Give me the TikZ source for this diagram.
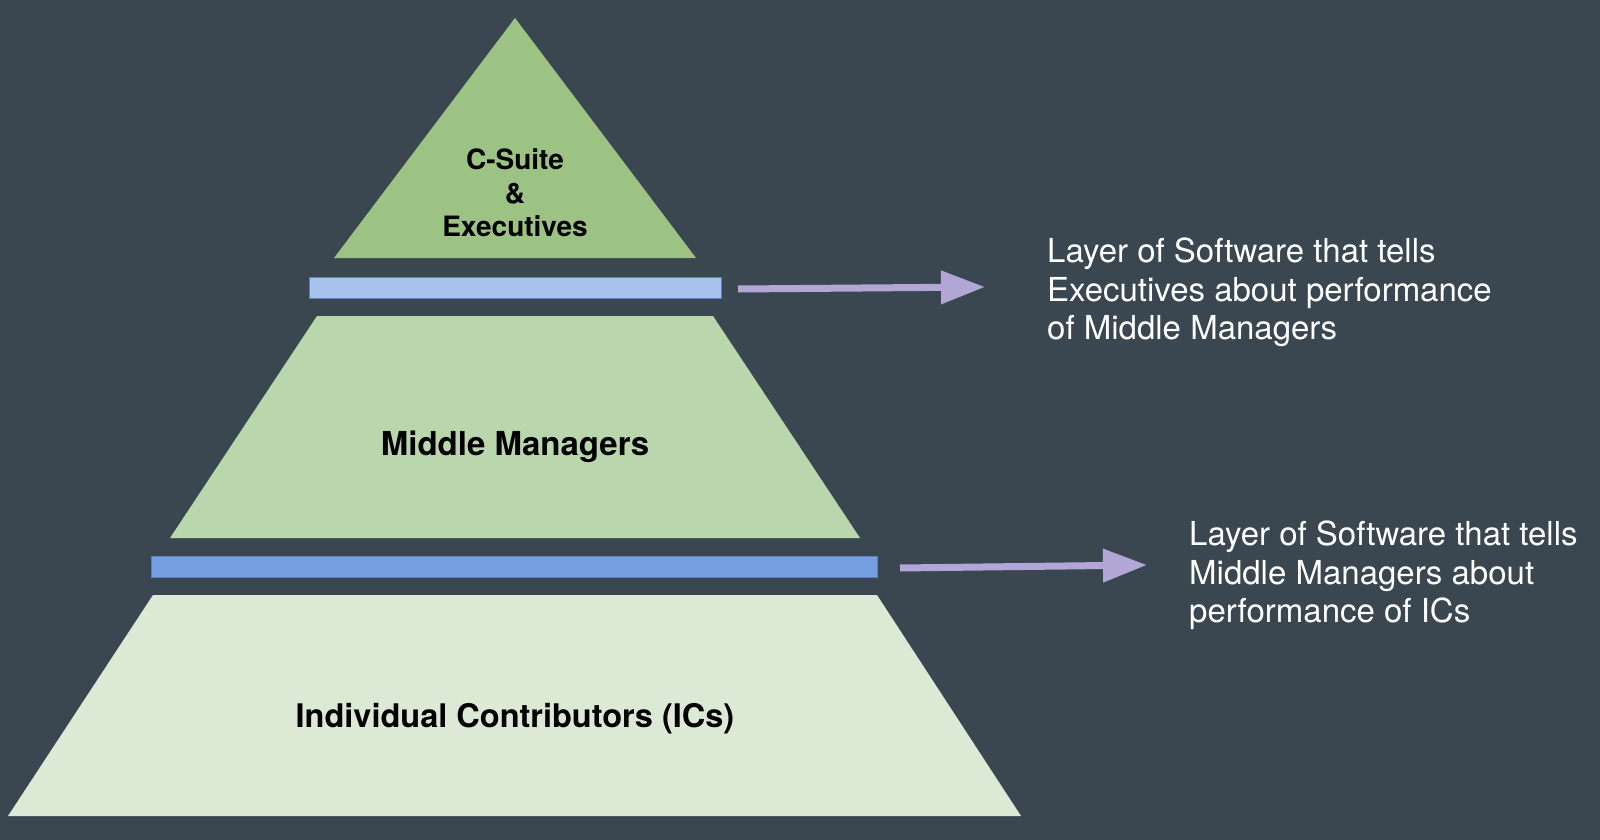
\documentclass[tikz,border=0pt]{standalone}
\usepackage{fontspec}
\setmainfont{TeX Gyre Heros}
\usetikzlibrary{arrows.meta}
\definecolor{bgc}{HTML}{3A4650}
\definecolor{gtop}{HTML}{9DC384}
\definecolor{gmid}{HTML}{BAD6AC}
\definecolor{gbot}{HTML}{DCE9D5}
\definecolor{barA}{HTML}{A9C3EF}
\definecolor{barB}{HTML}{769EE2}
\definecolor{barline}{HTML}{5F7FB8}
\definecolor{arrc}{HTML}{B1A6D4}
\tikzset{
  layer/.style={draw=none},
  barbox/.style={draw=barline, line width=0.8pt, inner sep=0pt, minimum height=21pt},
  lbl/.style={text=black, font=\bfseries\fontsize{33}{38}\selectfont, inner sep=0pt},
  toplbl/.style={text=black, font=\bfseries\fontsize{28}{33.5}\selectfont, align=center, inner sep=0pt},
  note/.style={text=white, font=\fontsize{33}{38.5}\selectfont, align=left, inner sep=0pt, anchor=north west},
  flow/.style={draw=arrc, line width=7pt, -{Triangle[length=44pt,width=32pt]}}
}
\begin{document}
\begin{tikzpicture}[x=1pt,y=-1pt]
\fill[bgc] (0,0) rectangle (1600,840);
\useasboundingbox (0,0) rectangle (1600,840);
% layers
\fill[gtop,layer] (515,18) -- (696,258) -- (334,258) -- cycle;
\fill[gmid,layer] (317,316) -- (713,316) -- (860,538) -- (170,538) -- cycle;
\fill[gbot,layer] (153,595) -- (877,595) -- (1021,816) -- (8,816) -- cycle;
% bars
\node[barbox, fill=barA, minimum width=412pt] (barTop) at (515,287.5) {};
\node[barbox, fill=barB, minimum width=726pt] (barBot) at (514,566.5) {};
% labels
\node[toplbl] (csuite) at (515,193) {C-Suite\\\&\\Executives};
\node[lbl] (mid) at (515,447) {Middle Managers};
\node[lbl, font=\bfseries\fontsize{32.5}{38}\selectfont] (ics) at (515,719) {Individual Contributors (ICs)};
% arrows
\coordinate (a1s) at (738,289);
\coordinate (a1e) at (985,287);
\coordinate (a2s) at (900,568);
\coordinate (a2e) at (1147,565);
\draw[flow] (a1s) -- (a1e);
\draw[flow] (a2s) -- (a2e);
% notes
\node[note] (noteTop) at (1047,238) {Layer of Software that tells\\Executives about performance\\of Middle Managers};
\node[note] (noteBot) at (1189,521) {Layer of Software that tells\\Middle Managers about\\performance of ICs};
\end{tikzpicture}
\end{document}
